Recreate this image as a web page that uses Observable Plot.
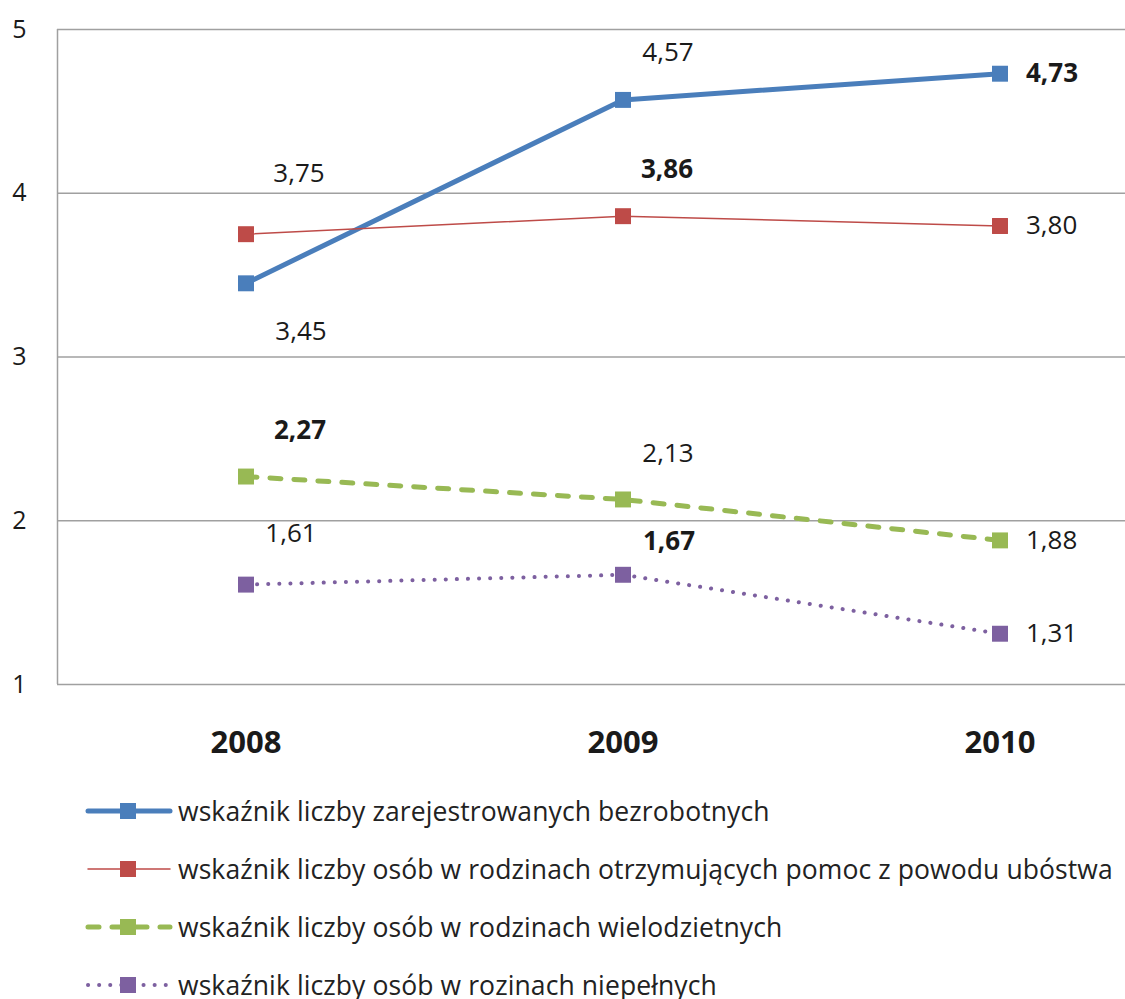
<!DOCTYPE html>
<html><head><meta charset="utf-8">
<script src="https://cdn.jsdelivr.net/npm/d3@7"></script>
<script src="https://cdn.jsdelivr.net/npm/@observablehq/plot@0.6"></script>
<style>
body{margin:0;background:#fff;overflow:hidden;}
#wrap{width:1125px;height:999px;overflow:hidden;font-family:"Open Sans",sans-serif;background:#fff;}
#legend{margin-top:2px;}
.row{display:flex;align-items:center;height:58px;white-space:nowrap;}
.row span{font-size:26.5px;color:#222;letter-spacing:0.1px;}
.row svg{flex:none;}
</style></head><body><div id="wrap"><div id="chart"></div><div id="legend"></div></div>
<script>
const years = [2008, 2009, 2010];
const seriesNames = [
  "wskaźnik liczby zarejestrowanych  bezrobotnych",
  "wskaźnik liczby osób w rodzinach otrzymujących pomoc z powodu ubóstwa",
  "wskaźnik liczby osób w rodzinach wielodzietnych",
  "wskaźnik liczby osób w rozinach niepełnych"
];
const bezrobotni   = [3.45, 4.57, 4.73];
const ubostwo      = [3.75, 3.86, 3.80];
const wielodzietne = [2.27, 2.13, 1.88];
const niepelne     = [1.61, 1.67, 1.31];
const yTicks = [1, 2, 3, 4, 5];

const seriesValues = [bezrobotni, ubostwo, wielodzietne, niepelne];
const colors = ["#4a7ebb", "#be4b48", "#98b954", "#7d60a0"];
const strokeWidths = [5, 1.5, 5, 4];
const dashes = [null, null, "11 13", "0.1 11"];
// label offsets [dx, dy] (style only)
const labelOffsets = [
  [[55, 48], [45, -47], [26, 0]],
  [[53, -61], [44, -47], [26, 0]],
  [[54, -46], [45, -46], [26, 0]],
  [[45, -51], [46, -33], [26, 0]]
];

const fmt = v => v.toFixed(2).replace(".", ",");

const marks = [
  Plot.ruleY(yTicks, {stroke: "#a0a0a0", strokeWidth: 1.5}),
  Plot.ruleX([2007.5], {stroke: "#a0a0a0", strokeWidth: 1.5}),
  Plot.axisY({ticks: yTicks, tickSize: 0, tickPadding: 31, fontSize: 25, tickFormat: d => String(d), label: null}),
  Plot.axisX({ticks: years, tickSize: 0, tickPadding: 46, fontSize: 31, fontWeight: "bold", tickFormat: d => String(d), label: null})
];

seriesValues.forEach((vals, i) => {
  const rows = years.map((year, j) => ({year, value: vals[j]}));
  marks.push(Plot.line(rows, {
    x: "year", y: "value", stroke: colors[i], strokeWidth: strokeWidths[i],
    strokeDasharray: dashes[i], strokeLinecap: i >= 2 ? "round" : "butt", strokeLinejoin: "round"
  }));
  marks.push(Plot.dot(rows, {x: "year", y: "value", symbol: "square", r: 9, fill: colors[i], stroke: "none"}));
  const maxV = d3.max(vals);
  rows.forEach((row, j) => {
    const [dx, dy] = labelOffsets[i][j];
    marks.push(Plot.text([row], {
      x: "year", y: "value", text: d => fmt(d.value), dx, dy,
      textAnchor: j === 2 ? "start" : "middle",
      fontSize: 26, fontWeight: row.value === maxV ? "bold" : "normal", fill: "#1a1a1a"
    }));
  });
});

const chart = Plot.plot({
  width: 1125, height: 780,
  marginLeft: 57, marginRight: 0, marginTop: 29, marginBottom: 96,
  style: {fontFamily: "Open Sans, sans-serif", color: "#1a1a1a", background: "#fff", overflow: "hidden"},
  x: {type: "linear", domain: [2007.5, 2010.5], range: [57, 1188]},
  y: {domain: [1, 5], range: [684, 29]},
  marks
});
document.getElementById("chart").appendChild(chart);

const legend = d3.select("#legend");
seriesNames.forEach((name, i) => {
  const row = legend.append("div").attr("class", "row");
  const svg = row.append("svg").attr("width", 178).attr("height", 58);
  svg.append("line").attr("x1", 88).attr("x2", 170).attr("y1", 29).attr("y2", 29)
    .attr("stroke", colors[i]).attr("stroke-width", strokeWidths[i])
    .attr("stroke-dasharray", dashes[i]).attr("stroke-linecap", "round");
  svg.append("rect").attr("x", 120).attr("y", 21).attr("width", 16).attr("height", 16).attr("fill", colors[i]);
  row.append("span").text(name);
});
</script></body></html>
